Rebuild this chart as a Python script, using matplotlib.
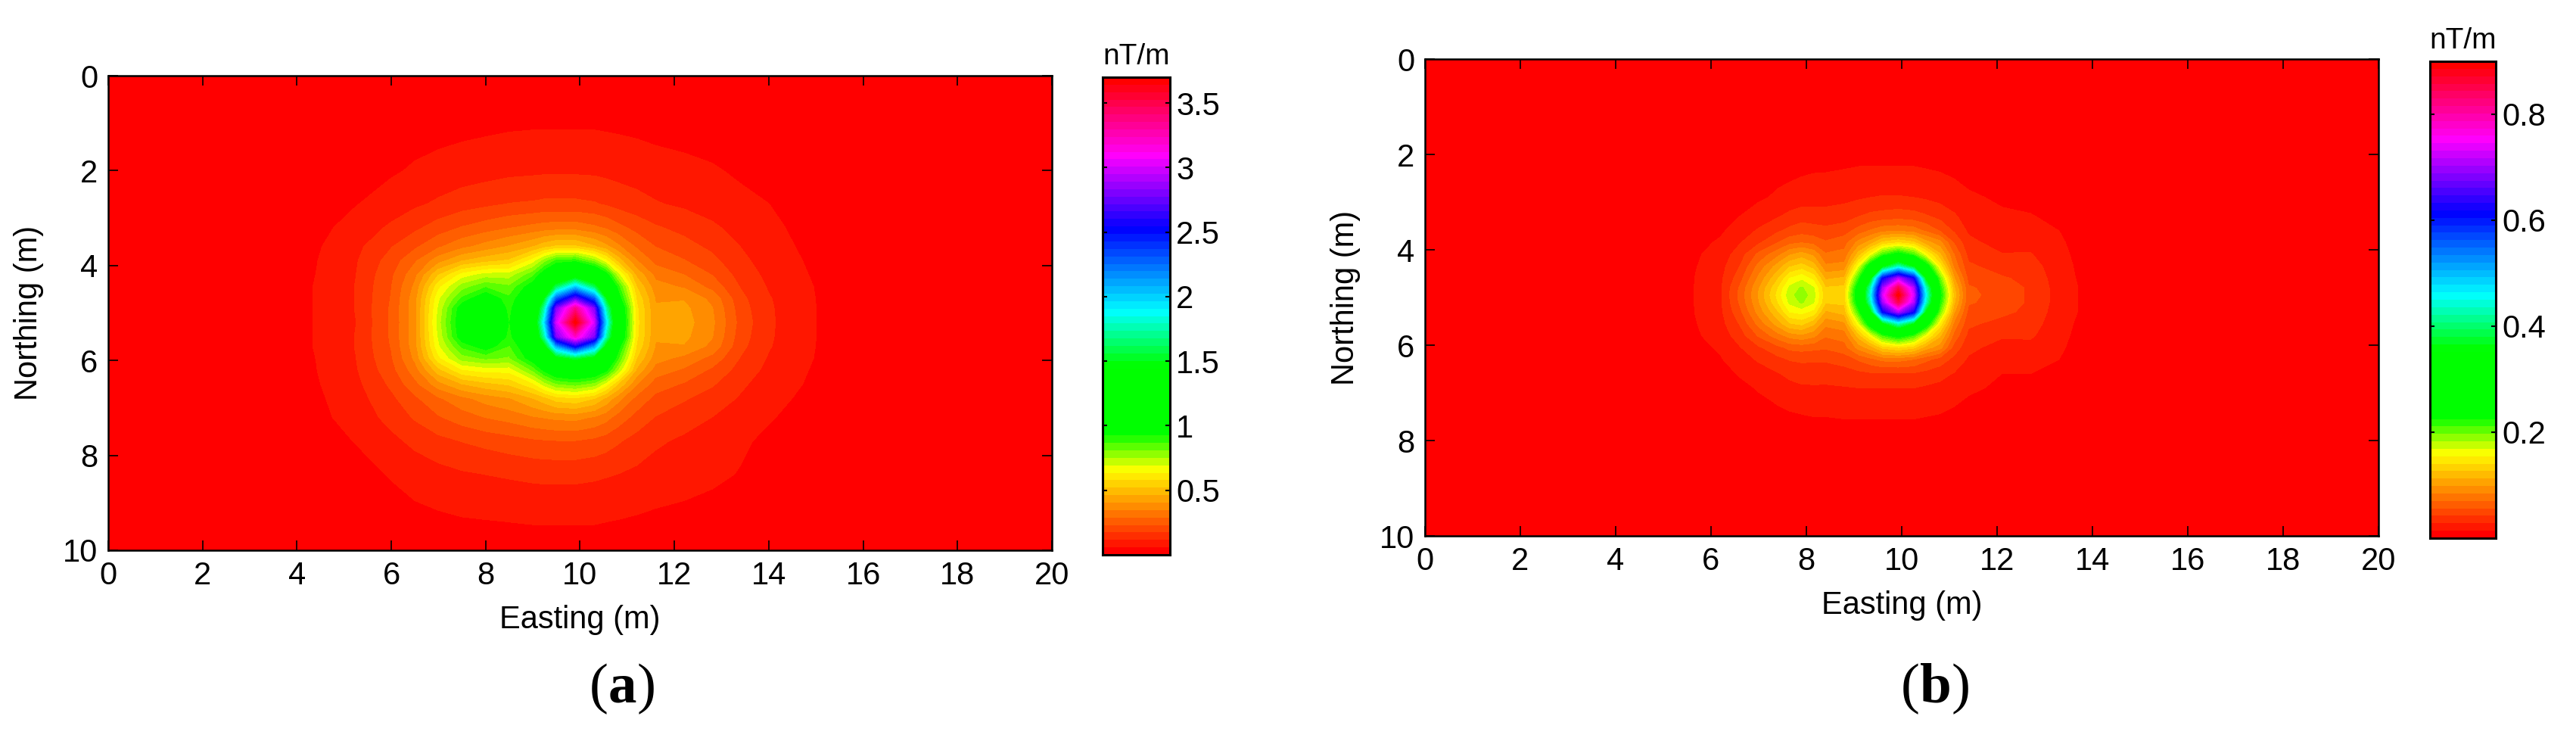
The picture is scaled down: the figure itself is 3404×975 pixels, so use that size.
"""Two gradient maps (a, b) with a banded red-yellow-green-cyan-blue-magenta scale."""

import matplotlib

matplotlib.use("Agg")
import matplotlib.pyplot as plt
import numpy as np
from matplotlib.colors import LinearSegmentedColormap

plt.rcParams.update(
    {
        "font.family": ["Liberation Sans", "DejaVu Sans"],
        "font.size": 30,
        "xtick.direction": "in",
        "ytick.direction": "in",
        "xtick.top": True,
        "ytick.right": True,
    }
)

W, H = 3405, 975

# values, nT/m, on a grid that is finer around the peaks
x_a = [3.5, 4.4, 5.25, 6, 6.5, 7, 7.5, 8, 8.5, 9, 9.25, 9.5, 9.9, 10.3, 10.55, 10.8,
       11.2, 11.6, 12.2, 12.8, 13.4, 14, 15, 16]
y_a = [0, 1, 2, 2.7, 3.2, 3.6, 3.9, 4.2, 4.45, 4.7, 4.9, 5.2, 5.5, 5.7, 5.95, 6.2,
       6.5, 6.8, 7.2, 7.7, 8.4, 9.4, 10]
z_a = [
    [.001, .002, .004, .006, .007, .008, .009, .01, .012, .014, .015, .015, .015, .015, .014, .013, .012, .01, .008, .007, .005, .003, .002, .001],
    [.003, .01, .018, .025, .03, .036, .04, .044, .048, .05, .05, .05, .05, .05, .048, .046, .042, .038, .034, .03, .024, .018, .008, .002],
    [.005, .015, .03, .05, .065, .075, .085, .092, .1, .104, .106, .106, .106, .104, .1, .096, .09, .08, .072, .063, .05, .035, .02, .01],
    [.01, .03, .055, .085, .105, .125, .145, .16, .175, .18, .185, .185, .185, .178, .165, .15, .135, .12, .105, .09, .07, .058, .03, .012],
    [.02, .04, .08, .125, .16, .2, .235, .26, .285, .305, .315, .32, .32, .3, .28, .25, .21, .18, .155, .125, .095, .07, .035, .015],
    [.022, .05, .1, .17, .22, .28, .33, .37, .41, .46, .5, .53, .53, .47, .42, .36, .28, .23, .195, .16, .115, .08, .04, .018],
    [.025, .055, .11, .2, .28, .38, .46, .5, .53, .66, .78, .88, .9, .78, .65, .5, .35, .27, .235, .19, .13, .09, .045, .02],
    [.027, .058, .115, .22, .33, .52, .66, .72, .72, .85, 1.0, 1.15, 1.3, 1.15, .98, .72, .45, .33, .29, .23, .15, .1, .05, .022],
    [.028, .06, .118, .23, .36, .62, .78, .86, .82, .98, 1.2, 1.6, 2.0, 1.6, 1.2, .9, .52, .37, .34, .27, .17, .11, .055, .025],
    [.03, .06, .118, .235, .38, .68, .88, 1.0, .88, 1.05, 1.5, 2.3, 2.75, 2.3, 1.5, 1.0, .57, .4, .4, .33, .19, .12, .057, .028],
    [.03, .06, .118, .24, .385, .7, .98, 1.08, .9, 1.12, 1.75, 2.8, 3.35, 2.8, 1.75, 1.12, .59, .41, .42, .35, .2, .123, .058, .03],
    [.03, .06, .115, .24, .38, .72, 1.0, 1.1, .92, 1.2, 1.95, 3.0, 3.7, 3.0, 1.95, 1.15, .6, .41, .43, .36, .21, .125, .058, .03],
    [.03, .06, .118, .24, .385, .7, .98, 1.08, .9, 1.12, 1.75, 2.8, 3.2, 2.8, 1.75, 1.12, .59, .41, .42, .35, .2, .123, .058, .03],
    [.03, .06, .118, .235, .38, .68, .88, .97, .86, 1.03, 1.4, 2.1, 2.55, 2.1, 1.4, .98, .57, .4, .4, .33, .19, .12, .057, .028],
    [.028, .058, .115, .225, .36, .62, .78, .82, .8, .98, 1.15, 1.4, 1.55, 1.4, 1.15, .88, .52, .37, .33, .27, .17, .11, .055, .025],
    [.027, .056, .11, .21, .32, .5, .63, .66, .66, .82, .95, 1.05, 1.1, 1.05, .95, .75, .45, .32, .28, .22, .15, .1, .05, .022],
    [.025, .052, .1, .185, .27, .38, .46, .5, .53, .62, .72, .8, .83, .78, .66, .52, .35, .26, .225, .18, .125, .09, .045, .02],
    [.022, .047, .09, .16, .22, .28, .33, .37, .4, .46, .5, .55, .57, .52, .45, .37, .27, .215, .18, .145, .11, .075, .04, .018],
    [.02, .042, .08, .135, .18, .225, .26, .29, .31, .34, .35, .36, .365, .34, .31, .265, .21, .17, .14, .115, .088, .062, .033, .015],
    [.014, .032, .06, .1, .13, .155, .175, .19, .205, .22, .225, .228, .228, .215, .2, .18, .15, .125, .105, .085, .065, .048, .026, .011],
    [.006, .018, .038, .062, .08, .095, .108, .116, .122, .128, .13, .13, .13, .125, .12, .115, .103, .09, .08, .068, .055, .04, .02, .008],
    [.002, .008, .018, .03, .04, .046, .052, .055, .058, .06, .06, .06, .06, .06, .058, .055, .05, .045, .04, .035, .028, .02, .01, .004],
    [.001, .004, .01, .018, .024, .028, .032, .034, .036, .038, .038, .038, .038, .038, .036, .034, .03, .027, .024, .02, .016, .012, .006, .002],
]

x_b = [5, 5.6, 6.2, 6.6, 7, 7.4, 7.65, 7.9, 8.15, 8.4, 8.8, 9.1, 9.35, 9.6, 9.93, 10.25,
       10.5, 10.8, 11.1, 11.4, 12.1, 12.7, 13.3, 13.8, 14.5]
y_b = [1.5, 2.25, 2.9, 3.3, 3.6, 3.85, 4.1, 4.35, 4.6, 4.8, 4.95, 5.1, 5.3, 5.55, 5.8,
       6.05, 6.3, 6.6, 6.9, 7.55, 8.2]
z_b = [
    [0, 0, .001, .002, .003, .004, .005, .005, .005, .005, .005, .005, .005, .005, .005, .005, .005, .005, .004, .003, .002, .002, .001, 0, 0],
    [0, .001, .003, .005, .007, .009, .01, .011, .012, .012, .013, .014, .014, .014, .014, .014, .013, .012, .01, .008, .006, .004, .003, .001, 0],
    [.001, .003, .006, .009, .012, .016, .018, .02, .021, .022, .024, .026, .028, .029, .029, .028, .026, .023, .02, .016, .012, .009, .006, .003, .001],
    [.001, .004, .009, .014, .02, .027, .032, .036, .035, .034, .036, .042, .046, .048, .05, .048, .044, .038, .03, .022, .016, .015, .01, .004, .001],
    [.002, .006, .012, .02, .03, .04, .046, .05, .048, .046, .05, .062, .072, .08, .082, .078, .068, .055, .04, .026, .019, .019, .014, .005, .002],
    [.003, .009, .016, .027, .04, .056, .066, .07, .066, .058, .065, .09, .105, .13, .14, .13, .105, .09, .055, .032, .022, .024, .017, .006, .002],
    [.003, .011, .02, .035, .06, .08, .097, .105, .095, .072, .075, .12, .16, .21, .24, .21, .16, .115, .07, .038, .029, .029, .019, .008, .003],
    [.003, .012, .023, .042, .075, .105, .125, .133, .12, .087, .09, .165, .25, .345, .43, .355, .25, .15, .08, .045, .036, .034, .02, .01, .003],
    [.004, .013, .025, .05, .088, .125, .155, .165, .15, .11, .115, .215, .345, .61, .71, .62, .355, .2, .1, .052, .044, .038, .021, .011, .004],
    [.004, .013, .026, .058, .097, .14, .172, .185, .17, .128, .13, .25, .43, .7, .85, .71, .44, .225, .115, .058, .05, .04, .022, .012, .004],
    [.004, .013, .026, .06, .1, .145, .178, .19, .175, .13, .135, .26, .45, .73, .9, .73, .46, .235, .12, .06, .05, .04, .022, .012, .004],
    [.004, .013, .026, .058, .097, .14, .172, .185, .17, .128, .13, .25, .43, .7, .85, .71, .44, .225, .115, .058, .05, .04, .022, .012, .004],
    [.004, .013, .025, .052, .09, .125, .155, .16, .15, .11, .118, .215, .345, .61, .71, .62, .355, .2, .1, .052, .046, .038, .021, .012, .004],
    [.003, .012, .023, .043, .075, .105, .125, .13, .115, .088, .095, .165, .25, .345, .43, .355, .25, .15, .08, .045, .037, .034, .02, .01, .003],
    [.003, .011, .02, .035, .058, .078, .09, .095, .088, .072, .076, .12, .16, .21, .24, .21, .16, .115, .065, .038, .03, .03, .019, .008, .003],
    [.002, .009, .016, .027, .04, .052, .06, .062, .06, .058, .065, .09, .105, .13, .14, .13, .105, .09, .05, .032, .022, .024, .017, .006, .002],
    [.002, .007, .013, .021, .03, .038, .043, .044, .044, .044, .048, .058, .066, .074, .075, .07, .06, .05, .038, .026, .018, .018, .014, .005, .002],
    [.001, .005, .01, .015, .021, .027, .032, .036, .035, .034, .036, .038, .04, .04, .04, .04, .037, .033, .027, .021, .014, .014, .01, .004, .001],
    [.001, .004, .007, .011, .015, .019, .023, .025, .026, .026, .027, .028, .028, .028, .028, .028, .026, .024, .02, .016, .012, .011, .006, .003, .001],
    [0, .002, .004, .006, .008, .01, .011, .012, .013, .013, .014, .014, .014, .014, .014, .014, .013, .012, .01, .008, .006, .004, .003, .001, 0],
    [0, 0, .001, .002, .003, .004, .005, .005, .005, .005, .006, .006, .006, .006, .006, .006, .005, .005, .004, .003, .002, .002, .001, 0, 0],
]

vmax_a, vmax_b = 3.7, 0.9
cticks_a = [0.5, 1, 1.5, 2, 2.5, 3, 3.5]
cticks_b = [0.2, 0.4, 0.6, 0.8]
cticklabels_a = ["0.5", "1", "1.5", "2", "2.5", "3", "3.5"]
cticklabels_b = ["0.2", "0.4", "0.6", "0.8"]

cmap = LinearSegmentedColormap.from_list(
    "field",
    [
        (0.0, "#ff0000"),
        (0.173, "#ffff00"),
        (0.25, "#00ff00"),
        (0.395, "#00ff00"),
        (0.51, "#00ffff"),
        (0.685, "#0000ff"),
        (0.84, "#ff00ff"),
        (1.0, "#ff0000"),
    ],
    N=64,
)


def axes_px(fig, left, top, right, bottom):
    return fig.add_axes(
        [left / W, 1 - bottom / H, (right - left) / W, (bottom - top) / H]
    )


def panel(fig, rect, crect, xs, ys, zs, vmax, cticks, clabels):
    ax = axes_px(fig, *rect)
    ax.set_facecolor("#ff0000")
    levels = np.linspace(0, vmax, 65)
    ax.contourf(xs, ys, np.array(zs), levels=levels, cmap=cmap, extend="both",
                antialiased=False)
    ax.set_xlim(0, 20)
    ax.set_ylim(10, 0)
    ax.set_xticks(range(0, 21, 2))
    ax.set_yticks(range(0, 11, 2))
    ax.tick_params(length=9.5, width=1.2, pad=10)
    ax.set_xlabel("Easting (m)", labelpad=13)
    ax.set_ylabel("Northing (m)", labelpad=18)
    for s in ax.spines.values():
        s.set_linewidth(1.8)

    cax = axes_px(fig, *crect)
    grad = np.linspace(0, vmax, 64)[:, None]
    cax.imshow(grad, origin="lower", aspect="auto", cmap=cmap, vmin=0, vmax=vmax,
               extent=[0, 1, 0, vmax], interpolation="nearest")
    cax.set_xticks([])
    cax.set_yticks(cticks)
    cax.set_yticklabels(clabels)
    cax.yaxis.tick_right()
    cax.tick_params(axis="y", left=True, right=True, length=4.5, width=1.5, pad=6)
    cax.set_title("nT/m", fontsize=28, pad=12)
    for s in cax.spines.values():
        s.set_linewidth(2.2)


fig = plt.figure(figsize=(W / 100, H / 100), dpi=100)
panel(fig, (143, 100, 1390, 727), (1457, 102, 1546, 733), x_a, y_a, z_a, vmax_a,
      cticks_a, cticklabels_a)
panel(fig, (1883, 78, 3143, 708), (3211, 81, 3298, 711), x_b, y_b, z_b, vmax_b,
      cticks_b, cticklabels_b)

for x0, x1, x2, letter in ((779, 804, 842, "a"), (2512, 2537, 2579, "b")):
    fig.text(x0 / W, 1 - 910 / H, "(", family="Liberation Serif", fontsize=54,
             ha="left", va="center")
    fig.text(x1 / W, 1 - 910 / H, letter, family="Liberation Serif", fontsize=54,
             weight="bold", ha="left", va="center")
    fig.text(x2 / W, 1 - 910 / H, ")", family="Liberation Serif", fontsize=54,
             ha="left", va="center")

fig.savefig("out.png", dpi=100)
plt.close(fig)
